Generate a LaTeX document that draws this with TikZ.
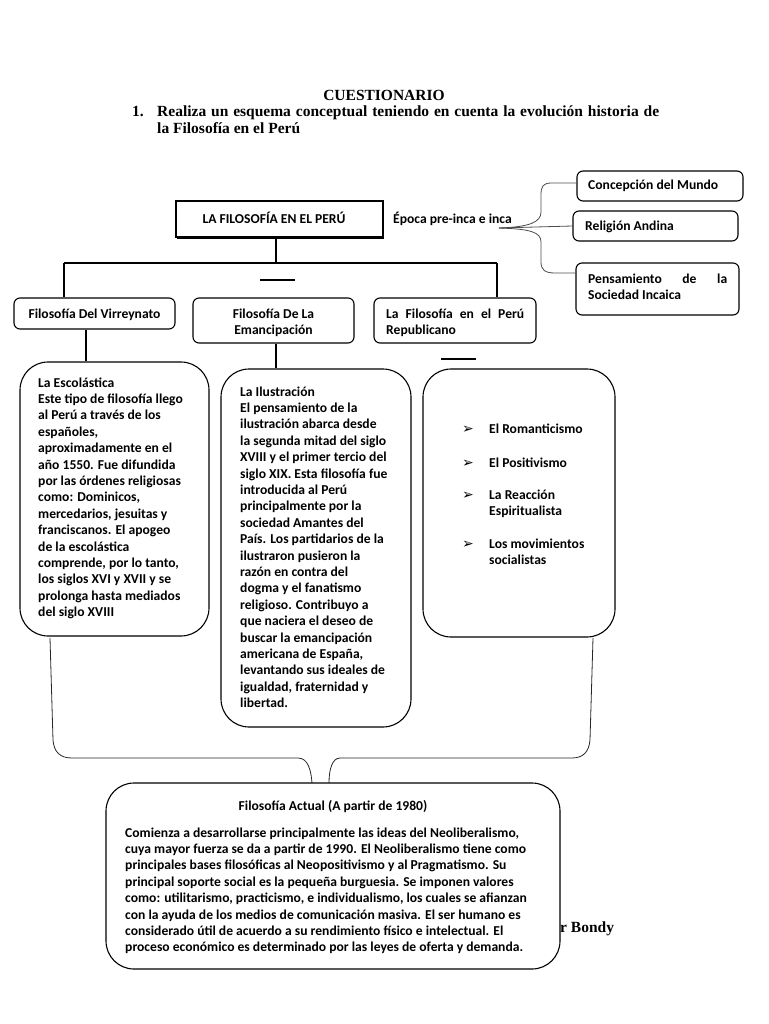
\documentclass[tikz,border=0pt]{standalone}
\usepackage{fontspec}
\newfontfamily\calib{Carlito}
\newfontfamily\tnr{Liberation Serif}
\newfontfamily\djv{DejaVu Sans}
\begin{document}
\tikzset{
  bx/.style={draw, line width=1.1pt, inner sep=0pt, fill=white},
  sbx/.style={bx, rounded corners=6pt},
  bbx/.style={bx, rounded corners=28pt},
  txt/.style={inner sep=0pt, anchor=base west, font=\calib\bfseries\fontsize{13.6}{16.4}\selectfont},
  ctxt/.style={txt, anchor=base},
  ttl/.style={inner sep=0pt, anchor=base west, font=\tnr\bfseries\fontsize{15.5}{17}\selectfont},
  ln/.style={line width=1.1pt},
  brc/.style={line width=0.8pt, black!70},
  blt/.style={inner sep=0pt, anchor=base west, font=\djv\bfseries\fontsize{14}{16}\selectfont},
}
\newcommand{\blk}[2]{\parbox[t]{#1}{\parindent=0pt\raggedright #2}}
\begin{tikzpicture}[x=1pt,y=-1pt]
\useasboundingbox (0,0) rectangle (768,1024);
% title
\node[ttl, anchor=base] (cuest) at (384,100.5) {CUESTIONARIO};
\node[ttl] (num) at (132,117) {1.};
\node[ttl] (q1) at (157,117) {\makebox[502pt][s]{Realiza un esquema conceptual teniendo en cuenta la evolución historia de}};
\node[ttl] (q2) at (157,134) {la Filosofía en el Perú};
% r Bondy (behind bottom box)
\node[ttl] (bondy) at (560,932) {r Bondy};
% main box
\draw[line width=1.6pt] (177,238) -- (384,238);
\node[bx, minimum width=207, minimum height=36] (main) at (279.5,219) {};
\node[ctxt] (maint) at (274,223) {LA FILOSOFÍA EN EL PERÚ};
\node[txt] (epoca) at (393,223) {Época pre-inca e inca};
% right boxes
\node[sbx, minimum width=166, minimum height=30] (conc) at (660,186) {};
\node[txt] (conct) at (588,190) {Concepción del Mundo};
\node[sbx, minimum width=165, minimum height=30] (rel) at (655.5,226) {};
\node[txt] (relt) at (585,230) {Religión Andina};
\node[sbx, minimum width=163, minimum height=52] (pens) at (657.5,289) {};
\node[txt] (penst) at (588,283) {\blk{160pt}{\makebox[139pt][s]{Pensamiento de la}\\Sociedad Incaica}};
% right brace
\coordinate (tip) at (499,228);
\draw[brc] ([yshift=3pt]conc.west) -- (552,183) .. controls (543,183) and (541,186) .. (541,195) -- (541,212) .. controls (541,222) and (530,227) .. (tip);
\draw[brc] (tip) .. controls (530,229) and (541,232) .. (541,242) -- (541,262) .. controls (541,270) and (545,273) .. (555,273) -- ([yshift=16pt]pens.west);
\draw[brc] (tip) -- (rel.west);
% second level boxes
\node[sbx, minimum width=161, minimum height=31] (vir) at (94.5,313.5) {};
\node[ctxt] (virt) at (94.5,318) {Filosofía Del Virreynato};
\node[sbx, minimum width=161, minimum height=45] (eman) at (273.5,320.5) {};
\node[ctxt] (emant) at (273.5,318) {\parbox[t]{160pt}{\centering Filosofía De La\\Emancipación}};
\node[sbx, minimum width=162, minimum height=45] (rep) at (455,320.5) {};
\node[txt] (rept) at (386,318) {\blk{160pt}{\makebox[138pt][s]{La Filosofía en el Perú}\\Republicano}};
% tree connectors
\coordinate (hl) at (64,263);
\coordinate (hr) at (497,263);
\draw[ln] ([xshift=-3.5pt]main.south) -- ([xshift=-3.5pt]main.south |- hl);
\draw[ln] (hl) -- (hr);
\draw[ln] (hl) -- (hl |- vir.north);
\draw[ln] (hr) -- (hr |- rep.north);
\coordinate (d1a) at (260,280); \coordinate (d1b) at (295,280);
\draw[ln] (d1a) -- (d1b);
\coordinate (d2a) at (441,359); \coordinate (d2b) at (476,359);
\draw[ln] (d2a) -- (d2b);
% big boxes
\node[bbx, minimum width=189, minimum height=274] (esc) at (114.5,499) {};
\node[bbx, minimum width=190, minimum height=358] (ilu) at (316,548) {};
\node[bbx, minimum width=192, minimum height=268] (lst) at (519,503) {};
\coordinate (cv) at (86,0);
\draw[ln] (cv |- vir.south) -- (cv |- esc.north);
\coordinate (ce) at (276,0);
\draw[ln] (ce |- eman.south) -- (ce |- ilu.north);
\node[txt] (esct) at (38,387) {\blk{175pt}{La Escolástica\\
Este tipo de filosofía llego\\
al Perú a través de los\\
españoles,\\
aproximadamente en el\\
año 1550. Fue difundida\\
por las órdenes religiosas\\
como: Dominicos,\\
mercedarios, jesuitas y\\
franciscanos. El apogeo\\
de la escolástica\\
comprende, por lo tanto,\\
los siglos XVI y XVII y se\\
prolonga hasta mediados\\
del siglo XVIII}};
\node[txt] (ilut) at (240,396) {\blk{175pt}{La Ilustración\\
El pensamiento de la\\
ilustración abarca desde\\
la segunda mitad del siglo\\
XVIII y el primer tercio del\\
siglo XIX. Esta filosofía fue\\
introducida al Perú\\
principalmente por la\\
sociedad Amantes del\\
País. Los partidarios de la\\
ilustraron pusieron la\\
razón en contra del\\
dogma y el fanatismo\\
religioso. Contribuyo a\\
que naciera el deseo de\\
buscar la emancipación\\
americana de España,\\
levantando sus ideales de\\
igualdad, fraternidad y\\
libertad.}};
% list
\node[blt] (b1) at (462,433) {➢};
\node[txt] (l1) at (489,433) {El Romanticismo};
\node[blt] (b2) at (462,467) {➢};
\node[txt] (l2) at (489,467) {El Positivismo};
\node[blt] (b3) at (462,499) {➢};
\node[txt] (l3) at (489,499) {\blk{120pt}{La Reacción\\Espiritualista}};
\node[blt] (b4) at (462,548) {➢};
\node[txt] (l4) at (489,548) {\blk{120pt}{Los movimientos\\socialistas}};
% bottom brace
\coordinate (bl) at (50,638);
\coordinate (br) at (593,638);
\coordinate (tl) at (312,783);
\coordinate (tr) at (329,783);
\draw[brc, black!85] (bl) -- (53,740) .. controls (54,752) and (60,758) .. (72,758) -- (298,758) .. controls (308,758) and (311,770) .. (tl);
\draw[brc, black!85] (br) -- (590,740) .. controls (589,752) and (583,758) .. (572,758) -- (340,758) .. controls (332,758) and (329,770) .. (tr);
% bottom box
\node[bbx, minimum width=454, minimum height=186] (act) at (333,876) {};
\node[ctxt] (actt) at (333,810) {Filosofía Actual (A partir de 1980)};
\node[txt] (actb) at (125,837) {\blk{440pt}{Comienza a desarrollarse principalmente las ideas del Neoliberalismo,\\
cuya mayor fuerza se da a partir de 1990. El Neoliberalismo tiene como\\
principales bases filosóficas al Neopositivismo y al Pragmatismo. Su\\
principal soporte social es la pequeña burguesia. Se imponen valores\\
como: utilitarismo, practicismo, e individualismo, los cuales se afianzan\\
con la ayuda de los medios de comunicación masiva. El ser humano es\\
considerado útil de acuerdo a su rendimiento físico e intelectual. El\\
proceso económico es determinado por las leyes de oferta y demanda.}};
\end{tikzpicture}
\end{document}
